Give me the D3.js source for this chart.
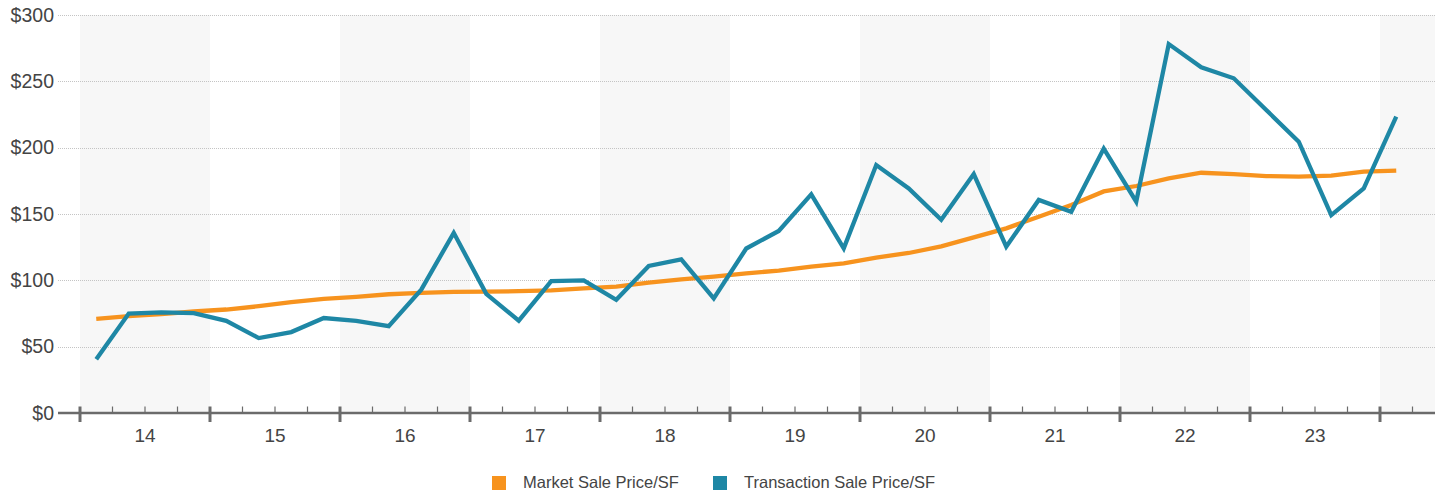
<!DOCTYPE html>
<html>
<head>
<meta charset="utf-8">
<script src="https://cdn.jsdelivr.net/npm/d3@7"></script>
<style>
  html, body { margin: 0; padding: 0; background: #fff; }
  svg { display: block; font-family: "Liberation Sans", Arial, sans-serif; }
</style>
</head>
<body>
<svg id="chart" width="1442" height="494"></svg>
<script>
// ---- data ----
const startYear = 2014;
const quarterCount = 41; // 2014 Q1 .. 2024 Q1
const yearLabels = ["14", "15", "16", "17", "18", "19", "20", "21", "22", "23"];
const yTicks = [0, 50, 100, 150, 200, 250, 300];
const marketSalePrice = [
  71, 73, 74.5, 76.5, 78, 80.5, 83.5, 86, 87.5, 89.5,
  90.5, 91.3, 91.5, 91.8, 92.5, 94, 95.3, 98.2, 100.8, 102.8,
  105.3, 107.3, 110.3, 112.8, 117.2, 120.6, 125.6, 132.4, 139.2, 148,
  156.8, 167, 171.1, 176.9, 181.1, 180.1, 178.6, 178.1, 178.9, 181.9,
  182.7
];
const transactionSalePrice = [
  40.5, 75, 75.8, 75.3, 69.5, 56.5, 61, 71.6, 69.5, 65.5,
  93, 135.8, 89.8, 69.6, 99.4, 99.9, 85.3, 110.8, 115.8, 86.4,
  124, 137.2, 164.8, 124.1, 186.9, 169.3, 145.7, 180.1, 125.4, 160.6,
  151.7, 199.3, 159.3, 278.1, 260.6, 252.3, 228.4, 204.5, 149.2, 169.3,
  223.4
];
const seriesNames = ["Market Sale Price/SF", "Transaction Sale Price/SF"];
const seriesColors = ["#f7931e", "#1e87a5"];

// ---- layout ----
const svg = d3.select("#chart");
const plotLeft = 58, plotRight = 1435, plotTop = 15, plotBottom = 413;
const bandStart = 80; // x where 2014 begins

const x = d3.scaleLinear()
  .domain([startYear, startYear + (plotRight - bandStart) / 130])
  .range([bandStart, plotRight]);
const y = d3.scaleLinear().domain([0, 300]).range([plotBottom, plotTop]);

const qx = i => x(startYear + (i + 0.5) / 4);

// alternating year bands (even years shaded)
const bandYears = d3.range(startYear, startYear + 11).filter((d, i) => i % 2 === 0);
svg.append("g").selectAll("rect").data(bandYears).join("rect")
  .attr("x", d => x(d))
  .attr("y", plotTop)
  .attr("width", d => Math.min(x(d + 1), plotRight) - x(d))
  .attr("height", plotBottom - plotTop)
  .attr("fill", "#f7f7f7");

// gridlines
svg.append("g").selectAll("line").data(yTicks.filter(d => d > 0)).join("line")
  .attr("x1", plotLeft).attr("x2", plotRight)
  .attr("y1", d => Math.round(y(d)) + 0.5).attr("y2", d => Math.round(y(d)) + 0.5)
  .attr("stroke", "#c4c4c4").attr("stroke-width", 1)
  .attr("stroke-dasharray", "1,1");

// y labels
svg.append("g").selectAll("text").data(yTicks).join("text")
  .attr("x", 54).attr("y", d => y(d))
  .attr("dy", "0.35em")
  .attr("text-anchor", "end")
  .attr("font-size", 19.5)
  .attr("fill", "#444")
  .text(d => "$" + d);

// x axis: baseline
svg.append("line")
  .attr("x1", plotLeft).attr("x2", plotRight)
  .attr("y1", plotBottom).attr("y2", plotBottom)
  .attr("stroke", "#6b6b6b").attr("stroke-width", 2.5);

// minor (quarter) ticks
const quarterTicks = d3.range(0, quarterCount + 1).map(i => startYear + i / 4)
  .filter(v => x(v) <= plotRight && Math.abs(v - Math.round(v)) > 1e-9);
svg.append("g").selectAll("line").data(quarterTicks).join("line")
  .attr("x1", d => x(d)).attr("x2", d => x(d))
  .attr("y1", plotBottom - 6.5).attr("y2", plotBottom)
  .attr("stroke", "#6b6b6b").attr("stroke-width", 1.2);

// major (year) ticks
const yearTicks = d3.range(startYear, startYear + 11);
svg.append("g").selectAll("line").data(yearTicks).join("line")
  .attr("x1", d => x(d)).attr("x2", d => x(d))
  .attr("y1", plotBottom - 6.5).attr("y2", plotBottom + 9)
  .attr("stroke", "#6b6b6b").attr("stroke-width", 3);

// year labels
svg.append("g").selectAll("text").data(yearLabels).join("text")
  .attr("x", (d, i) => x(startYear + i + 0.5))
  .attr("y", 442)
  .attr("text-anchor", "middle")
  .attr("font-size", 19)
  .attr("fill", "#444")
  .text(d => d);

// lines
const line = d3.line().x((d, i) => qx(i)).y(d => y(d));
[marketSalePrice, transactionSalePrice].forEach((s, k) => {
  svg.append("path")
    .datum(s)
    .attr("d", line)
    .attr("fill", "none")
    .attr("stroke", seriesColors[k])
    .attr("stroke-width", 4.3)
    .attr("stroke-linejoin", "miter")
    .attr("stroke-linecap", "butt");
});

// legend
const legendX = [492, 713];
const lg = svg.append("g").selectAll("g").data(seriesNames).join("g")
  .attr("transform", (d, i) => `translate(${legendX[i]},476)`);
lg.append("rect").attr("width", 14).attr("height", 14)
  .attr("fill", (d, i) => seriesColors[i]);
lg.append("text").attr("x", 31).attr("y", 11.5)
  .attr("font-size", 16.5).attr("fill", "#444")
  .text(d => d);
</script>
</body>
</html>
